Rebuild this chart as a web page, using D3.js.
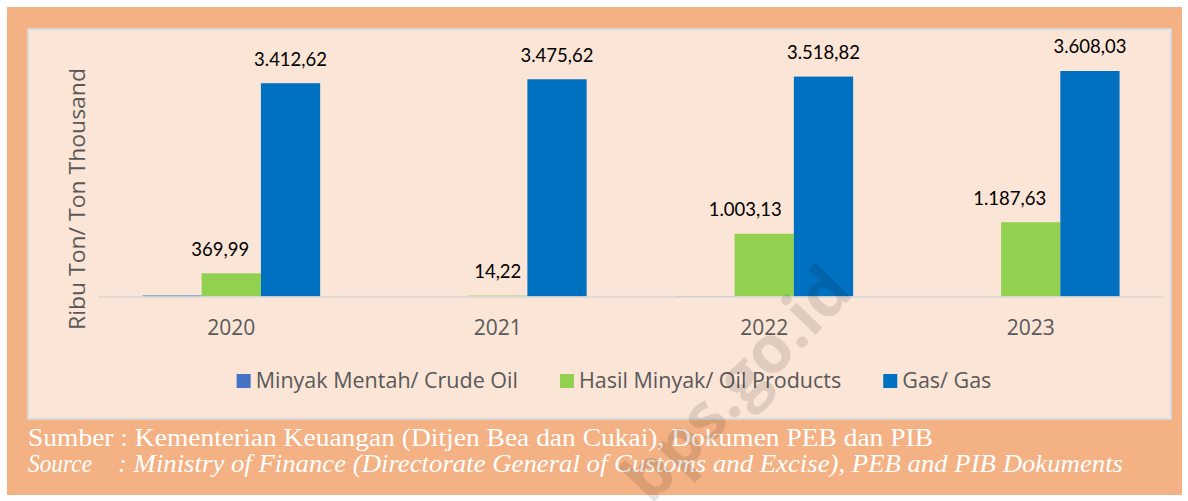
<!DOCTYPE html>
<html>
<head>
<meta charset="utf-8">
<script src="https://cdn.jsdelivr.net/npm/d3@7"></script>
<style>
  body { margin: 0; background: #fff; }
  svg { display: block; }
</style>
</head>
<body>
<div id="chart"></div>
<script>
// data
const years = ["2020", "2021", "2022", "2023"];
const seriesNames = ["Minyak Mentah/ Crude Oil", "Hasil Minyak/ Oil Products", "Gas/ Gas"];
const crudeOil = [16, 0, 6, 0];
const oilProducts = [369.99, 14.22, 1003.13, 1187.63];
const gas = [3412.62, 3475.62, 3518.82, 3608.03];
const seriesColors = ["#4472c4", "#92d050", "#0070c0"];
const yTitle = "Ribu Ton/ Ton Thousand";
const sourceId = "Sumber : Kementerian Keuangan (Ditjen Bea dan Cukai), Dokumen PEB dan PIB";
const sourceEnLabel = "Source";
const sourceEn = ": Ministry of Finance (Directorate General of Customs and Excise), PEB and PIB Dokuments";

// label nudges (green labels sit a bit left of their bars in the original)
const greenLabelNudge = [-11, 0, -19, -21];

const W = 1188, H = 501;
const svg = d3.select("#chart").append("svg").attr("width", W).attr("height", H);

// frame
svg.append("rect").attr("x", 7).attr("y", 7).attr("width", 1175).attr("height", 488).attr("fill", "#f4b183");
svg.append("rect").attr("x", 28).attr("y", 29).attr("width", 1143).attr("height", 390)
  .attr("fill", "#fbe5d6").attr("stroke", "#d9d9d9").attr("stroke-width", 2);

const rows = years.map((y, i) => ({ year: y, vals: [crudeOil[i], oilProducts[i], gas[i]], i: i }));

const x0 = d3.scaleBand().domain(years).range([98, 1164]).paddingInner(0.333).paddingOuter(0.1667);
const x1 = d3.scaleBand().domain(d3.range(seriesNames.length)).range([0, x0.bandwidth()]);
const y = d3.scaleLinear().domain([0, 4000]).range([296.5, 46.5]);

const fmt = d3.formatLocale({ decimal: ",", thousands: ".", grouping: [3], currency: ["", ""] }).format(",.2f");

const groups = svg.append("g").selectAll("g").data(rows).enter().append("g")
  .attr("transform", d => `translate(${x0(d.year)},0)`);

groups.selectAll("rect").data(d => d.vals.map((v, k) => ({ v: v, k: k, i: d.i }))).enter().append("rect")
  .attr("x", d => x1(d.k))
  .attr("width", x1.bandwidth())
  .attr("y", d => y(d.v))
  .attr("height", d => y(0) - y(d.v))
  .attr("fill", d => seriesColors[d.k]);

// value labels, only oil products and gas
groups.selectAll("text").data(d => d.vals.map((v, k) => ({ v: v, k: k, i: d.i })).filter(d => d.k > 0)).enter().append("text")
  .attr("x", d => x1(d.k) + x1.bandwidth() / 2 + (d.k === 1 ? greenLabelNudge[d.i] : 0))
  .attr("y", d => y(d.v) - 17.5)
  .attr("text-anchor", "middle")
  .attr("font-family", "Lato")
  .attr("font-size", 18.5)
  .attr("fill", "#000")
  .text(d => fmt(d.v));

// axis line
svg.append("line").attr("x1", 98).attr("x2", 1164).attr("y1", 297).attr("y2", 297)
  .attr("stroke", "#d9d9d9").attr("stroke-width", 1.5);

// category labels
svg.append("g").selectAll("text").data(years).enter().append("text")
  .attr("x", d => x0(d) + x0.bandwidth() / 2)
  .attr("y", 335)
  .attr("text-anchor", "middle")
  .attr("font-family", "Open Sans")
  .attr("font-size", 21)
  .attr("fill", "#595959")
  .text(d => d);

// y title
svg.append("text")
  .attr("transform", "translate(85,199) rotate(-90)")
  .attr("text-anchor", "middle")
  .attr("font-family", "Open Sans")
  .attr("font-size", 21)
  .attr("fill", "#595959")
  .attr("textLength", 262).attr("lengthAdjust", "spacingAndGlyphs")
  .text(yTitle);

// legend
const legend = svg.append("g");
let lx = 0;
seriesNames.forEach((name, k) => {
  const item = legend.append("g").attr("transform", `translate(${lx},0)`);
  item.append("rect").attr("x", 0).attr("y", 374).attr("width", 14).attr("height", 14).attr("fill", seriesColors[k]);
  const t = item.append("text").attr("x", 19).attr("y", 388)
    .attr("font-family", "Open Sans").attr("font-size", 21.5).attr("fill", "#595959").text(name);
  lx += 19 + t.node().getComputedTextLength() + 42;
});
const legendW = lx - 42;
legend.attr("transform", `translate(${614 - legendW / 2},0)`);

// source lines
svg.append("text").attr("x", 28).attr("y", 446)
  .attr("font-family", "Liberation Serif").attr("font-size", 25).attr("fill", "#fff")
  .attr("textLength", 905).attr("lengthAdjust", "spacingAndGlyphs")
  .text(sourceId);
svg.append("text").attr("x", 28).attr("y", 472)
  .attr("font-family", "Liberation Serif").attr("font-style", "italic").attr("font-size", 25).attr("fill", "#fff")
  .attr("textLength", 64).attr("lengthAdjust", "spacingAndGlyphs")
  .text(sourceEnLabel);
svg.append("text").attr("x", 118).attr("y", 472)
  .attr("font-family", "Liberation Serif").attr("font-style", "italic").attr("font-size", 25).attr("fill", "#fff")
  .attr("textLength", 1005).attr("lengthAdjust", "spacingAndGlyphs")
  .text(sourceEn);

// watermark
svg.append("text")
  .attr("transform", "translate(855,294) rotate(-46)")
  .attr("text-anchor", "end")
  .attr("font-family", "Open Sans")
  .attr("font-weight", "bold")
  .attr("font-size", 66)
  .attr("fill", "#000")
  .attr("opacity", 0.1)
  .text("e.bps.go.id");
</script>
</body>
</html>
